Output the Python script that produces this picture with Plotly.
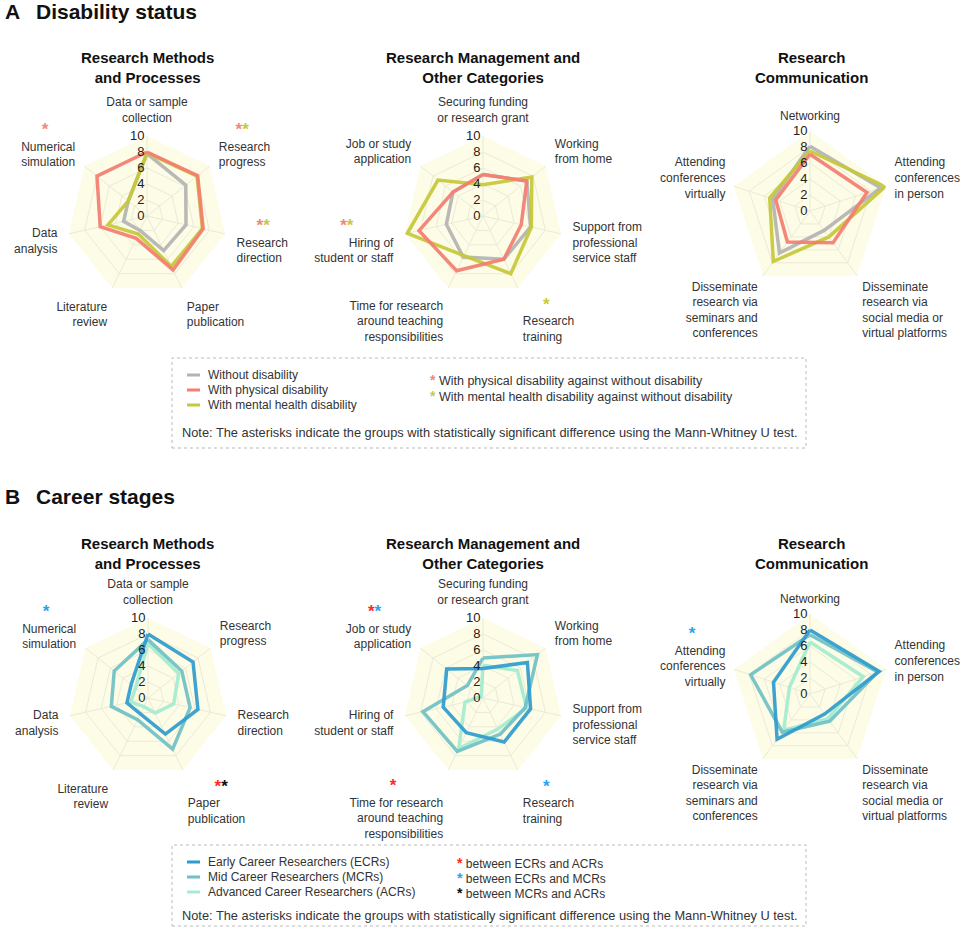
import math
import plotly.graph_objects as go

W, H = 969, 933
FONT = "Liberation Sans, Arial, sans-serif"

# ---------------- categories ----------------
methods = ["Data or sample collection", "Research progress", "Research direction",
           "Paper publication", "Literature review", "Data analysis", "Numerical simulation"]
methods_lbl = ["Data or sample<br>collection", "Research<br>progress", "Research<br>direction",
               "Paper<br>publication", "Literature<br>review", "Data<br>analysis",
               "Numerical<br>simulation"]

manage = ["Securing funding or research grant", "Working from home",
          "Support from professional service staff", "Research training",
          "Time for research around teaching responsibilities",
          "Hiring of student or staff", "Job or study application"]
manage_lbl = ["Securing funding<br>or research grant", "Working<br>from home",
              "Support from<br>professional<br>service staff", "Research<br>training",
              "Time for research<br>around teaching<br>responsibilities",
              "Hiring of<br>student or staff", "Job or study<br>application"]

comm = ["Networking", "Attending conferences in person",
        "Disseminate research via social media or virtual platforms",
        "Disseminate research via seminars and conferences",
        "Attending conferences virtually"]
comm_lbl = ["Networking", "Attending<br>conferences<br>in person",
            "Disseminate<br>research via<br>social media or<br>virtual platforms",
            "Disseminate<br>research via<br>seminars and<br>conferences",
            "Attending<br>conferences<br>virtually"]

# ---------------- A: disability status ----------------
a1_without = [7.8, 6.2, 5.0, 4.8, 2.0, 3.0, 3.0]
a1_physical = [8.0, 8.1, 7.2, 7.5, 3.1, 6.0, 8.0]
a1_mental = [7.9, 8.0, 7.1, 7.0, 2.5, 5.0, 3.0]
a1_sig = ["", "pm", "pm", "", "", "", "p"]

a2_without = [5.2, 7.0, 6.1, 6.0, 5.7, 4.7, 4.8]
a2_physical = [5.2, 7.0, 4.9, 6.0, 7.6, 8.2, 4.8]
a2_mental = [3.9, 7.8, 6.2, 8.0, 5.5, 9.7, 7.2]
a2_sig = ["", "", "", "m", "", "pm", ""]

a3_without = [8.1, 9.3, 3.0, 6.5, 4.9]
a3_physical = [7.1, 7.5, 4.9, 4.8, 4.5]
a3_mental = [7.5, 9.9, 4.0, 7.8, 5.3]
a3_sig = ["", "", "", "", ""]

# ---------------- B: career stages ----------------
b1_ecr = [8.0, 7.2, 6.4, 5.0, 2.2, 2.7, 2.7]
b1_mcr = [7.3, 5.4, 5.4, 7.1, 3.0, 4.7, 5.4]
b1_acr = [6.8, 4.9, 3.3, 2.1, 1.2, 2.2, 2.0]
b1_sig = ["", "", "", "rk", "", "", "b"]

b2_ecr = [3.7, 7.1, 6.1, 6.1, 4.8, 5.1, 5.8]
b2_mcr = [5.0, 8.7, 5.4, 5.0, 7.4, 7.7, 2.5]
b2_acr = [4.1, 5.5, 5.6, 4.3, 7.0, 2.3, 0.3]
b2_sig = ["", "", "", "b", "r", "", "rb"]

b3_ecr = [8.0, 9.1, 3.1, 7.0, 4.8]
b3_mcr = [7.4, 8.9, 4.2, 5.9, 7.8]
b3_acr = [6.5, 7.0, 3.8, 5.6, 2.7]
b3_sig = ["", "", "", "", "b"]

radial_ticks = [0, 2, 4, 6, 8, 10]

legend_a = ["Without disability", "With physical disability", "With mental health disability"]
legend_b = ["Early Career Researchers (ECRs)", "Mid Career Researchers (MCRs)",
            "Advanced Career Researchers (ACRs)"]
key_a = [("p", "With physical disability against without disability"),
         ("m", "With mental health disability against without disability")]
key_b = [("r", "between ECRs and ACRs"), ("b", "between ECRs and MCRs"),
         ("k", "between MCRs and ACRs")]

# ---------------- styles ----------------
C_WITHOUT, C_PHYS, C_MENT = "#b3b3b3", "#f57d71", "#c6c83a"
C_ECR, C_MCR, C_ACR = "#2f9ccf", "#6fc1c6", "#a4ecd0"
STAR = {"p": "#f4877a", "m": "#c9c93a", "r": "#ff2b1c", "b": "#27a4f2", "k": "#111111"}
BG = "#fdfce6"
GRID = "#ebead8"
NBSP = "\u00a0"


def px(x):
    return x / W


def py(y):
    return 1 - y / H


def star(c, size=17):
    return f"<span style='color:{STAR[c]};font-size:{size}px'><b>*</b></span>"


def with_stars(labels, sig):
    # put the asterisks above the label, roughly centred over its widest line
    out = []
    n = len(labels)
    for k, (lbl, s) in enumerate(zip(labels, sig)):
        if s:
            widest = max(len(part) for part in lbl.split("<br>")) * 5.9
            pad = NBSP * max(0, round((widest - 7 * len(s)) / 2 / 3.3))
            c = math.cos(math.radians(90 - k * 360 / n))
            stars = "".join(star(ch) for ch in s)
            if c > 0.1:
                stars = pad + stars
            elif c < -0.1:
                stars = stars + pad
            lbl = stars + "<br>" + lbl
        out.append(lbl)
    return out


fig = go.Figure()

panels = [
    # subplot, centre x, centre y, cats, labels, sig, series (drawn bottom to top), ticklen
    ("polar", 147, 216, methods, methods_lbl, a1_sig,
     [(a1_without, C_WITHOUT), (a1_mental, C_MENT), (a1_physical, C_PHYS)], 9),
    ("polar2", 483, 216, manage, manage_lbl, a2_sig,
     [(a2_without, C_WITHOUT), (a2_mental, C_MENT), (a2_physical, C_PHYS)], 9),
    ("polar3", 810, 211, comm, comm_lbl, a3_sig,
     [(a3_without, C_WITHOUT), (a3_mental, C_MENT), (a3_physical, C_PHYS)], 6),
    ("polar4", 148, 698, methods, methods_lbl, b1_sig,
     [(b1_acr, C_ACR), (b1_mcr, C_MCR), (b1_ecr, C_ECR)], 9),
    ("polar5", 483, 698, manage, manage_lbl, b2_sig,
     [(b2_acr, C_ACR), (b2_mcr, C_MCR), (b2_ecr, C_ECR)], 9),
    ("polar6", 810, 694, comm, comm_lbl, b3_sig,
     [(b3_acr, C_ACR), (b3_mcr, C_MCR), (b3_ecr, C_ECR)], 6),
]

R = 80
layout_polars = {}
for sp, cx, cy, cats, lbls, sig, series, tlen in panels:
    for vals, col in series:
        fig.add_trace(go.Scatterpolar(
            r=vals + [vals[0]], theta=cats + [cats[0]], mode="lines",
            line=dict(color=col, width=3.5), opacity=0.92,
            subplot=sp, showlegend=False, hoverinfo="skip",
        ))
    layout_polars[sp] = dict(
        domain=dict(x=[px(cx - R), px(cx + R)], y=[py(cy + R), py(cy - R)]),
        bgcolor=BG,
        gridshape="linear",
        angularaxis=dict(
            type="category", categoryarray=cats, direction="clockwise", rotation=90,
            tickmode="array", tickvals=cats, ticktext=with_stars(lbls, sig),
            ticks="outside", ticklen=tlen, tickcolor="rgba(0,0,0,0)",
            showline=False, gridcolor=GRID, gridwidth=1,
            tickfont=dict(family=FONT, size=12, color="#333333"),
        ),
        radialaxis=dict(
            range=[0, 10], tickvals=radial_ticks, angle=90, tickangle=90,
            side="counterclockwise", showline=False, ticks="",
            gridcolor=GRID, gridwidth=1,
            tickfont=dict(family=FONT, size=13, color="#222222"),
        ),
    )

fig.update_layout(**layout_polars)

# ---------------- titles ----------------
titles = [
    (147, 68, "Research Methods<br>and Processes"),
    (483, 68, "Research Management and<br>Other Categories"),
    (811, 68, "Research<br>Communication"),
    (147, 553, "Research Methods<br>and Processes"),
    (483, 553, "Research Management and<br>Other Categories"),
    (811, 553, "Research<br>Communication"),
]
annotations = []
for x, y, t in titles:
    annotations.append(dict(x=px(x), y=py(y), xref="paper", yref="paper", text=f"<b>{t}</b>",
                            showarrow=False, xanchor="center", yanchor="middle",
                            font=dict(family=FONT, size=15, color="#111111")))

for y, letter, t in [(12, "A", "Disability status"), (496, "B", "Career stages")]:
    annotations.append(dict(x=px(3), y=py(y), xref="paper", yref="paper", text=f"<b>{letter}</b>",
                            showarrow=False, xanchor="left", yanchor="middle",
                            font=dict(family=FONT, size=21, color="#111111")))
    annotations.append(dict(x=px(34), y=py(y), xref="paper", yref="paper", text=f"<b>{t}</b>",
                            showarrow=False, xanchor="left", yanchor="middle",
                            font=dict(family=FONT, size=21, color="#111111")))

# ---------------- legend boxes ----------------
shapes = []
small = dict(family=FONT, size=12, color="#333333")
legend_rows = [
    # names, colours, first row y, keys, key x, key first y, key step, key font, note y, box
    (legend_a, [C_WITHOUT, C_PHYS, C_MENT], 375, key_a, 428, 380, 16, 12.5, 432, (358, 448)),
    (legend_b, [C_ECR, C_MCR, C_ACR], 862, key_b, 455, 863, 15, 12, 915, (845, 926)),
]
note = ("Note: The asterisks indicate the groups with statistically significant "
        "difference using the Mann-Whitney U test.")
for names, cols, y0, keys, kx, ky0, kstep, kfs, ny, (bt, bb) in legend_rows:
    for i, (nm, col) in enumerate(zip(names, cols)):
        y = y0 + 15 * i
        shapes.append(dict(type="line", xref="paper", yref="paper",
                           x0=px(187), x1=px(200), y0=py(y), y1=py(y),
                           line=dict(color=col, width=3)))
        annotations.append(dict(x=px(206), y=py(y), xref="paper", yref="paper", text=nm,
                                showarrow=False, xanchor="left", yanchor="middle", font=small))
    for i, (c, t) in enumerate(keys):
        y = ky0 + kstep * i
        annotations.append(dict(x=px(kx), y=py(y), xref="paper", yref="paper",
                                text=star(c, 14) + " " + t, showarrow=False,
                                xanchor="left", yanchor="middle",
                                font=dict(family=FONT, size=kfs, color="#333333")))
    annotations.append(dict(x=px(180), y=py(ny), xref="paper", yref="paper", text=note,
                            showarrow=False, xanchor="left", yanchor="middle",
                            font=dict(family=FONT, size=12.8, color="#333333")))
    shapes.append(dict(type="rect", xref="paper", yref="paper",
                       x0=px(172), x1=px(806), y0=py(bb), y1=py(bt),
                       line=dict(color="#bbbbbb", width=1, dash="dot"),
                       fillcolor="rgba(0,0,0,0)"))

fig.update_layout(
    width=W, height=H,
    margin=dict(l=0, r=0, t=0, b=0),
    paper_bgcolor="white",
    font=dict(family=FONT, color="#333333"),
    annotations=annotations,
    shapes=shapes,
    showlegend=False,
)

# the page's default body margin would push the figure 8px off; drop it
fig.write_html("out.html", config={"displayModeBar": False},
               post_script="document.body.style.margin='0';")
